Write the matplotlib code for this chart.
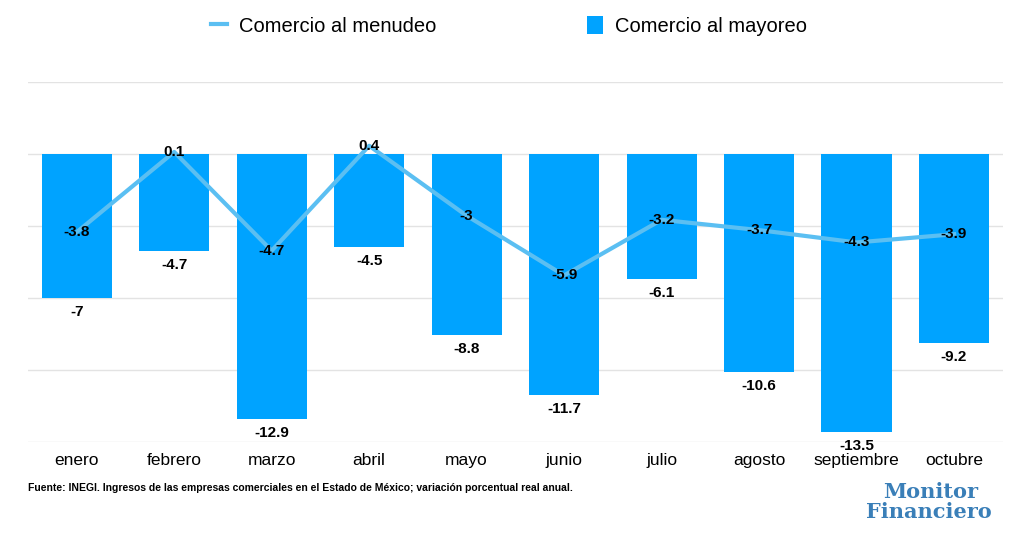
import numpy as np
import matplotlib
matplotlib.use('Agg')
import matplotlib.pyplot as plt
from matplotlib.lines import Line2D
from matplotlib.patches import Patch

plt.rcParams['font.family'] = ['Liberation Sans', 'DejaVu Sans']

# Data (variación porcentual real anual)
meses = ['enero', 'febrero', 'marzo', 'abril', 'mayo', 'junio',
         'julio', 'agosto', 'septiembre', 'octubre']
menudeo = [-3.8, 0.1, -4.7, 0.4, -3.0, -5.9, -3.2, -3.7, -4.3, -3.9]
mayoreo = [-7.0, -4.7, -12.9, -4.5, -8.8, -11.7, -6.1, -10.6, -13.5, -9.2]

bar_color = '#00A3FF'
line_color = '#5BBFF2'

fig = plt.figure(figsize=(10.24, 5.5), dpi=100)
ax = fig.add_axes([0.0273, 0.1964, 0.952, 0.6545])

x = np.arange(len(meses))
ax.bar(x, mayoreo, width=0.72, color=bar_color, zorder=2)
ax.plot(x, menudeo, color=line_color, linewidth=3, zorder=3)

# bar labels below each bar
for xi, v in zip(x, mayoreo):
    ax.annotate(f'{v:g}', (xi, v), xytext=(0, -5), textcoords='offset points',
                ha='center', va='top', fontsize=11, fontweight='bold', zorder=5)

# line labels centred on the points
for xi, v in zip(x, menudeo):
    ax.text(xi, v, f'{v:g}', ha='center', va='center', fontsize=11,
            fontweight='bold', zorder=5)

ax.set_xlim(-0.5, len(meses) - 0.5)
ax.set_ylim(-14, 3.5)
ax.set_yticks(np.arange(-14, 3.6, 3.5))
ax.set_yticklabels([])
ax.tick_params(axis='y', length=0)
ax.tick_params(axis='x', length=0, pad=8, labelsize=12.5)
ax.set_xticks(x)
ax.set_xticklabels(meses)
ax.grid(axis='y', color='#E3E3E3', linewidth=1, zorder=0)
ax.set_axisbelow(True)
for s in ax.spines.values():
    s.set_visible(False)

# legend
handles = [Line2D([0], [0], color=line_color, linewidth=3),
           Patch(facecolor=bar_color)]
fig.legend(handles, ['Comercio al menudeo', 'Comercio al mayoreo'],
           loc='center', bbox_to_anchor=(0.497, 0.953), ncol=2, frameon=False,
           fontsize=14.5, handlelength=0.8, handleheight=1.0, columnspacing=7.5,
           handletextpad=0.6)

fig.text(0.0273, 0.113,
         'Fuente: INEGI. Ingresos de las empresas comerciales en el Estado de México; '
         'variación porcentual real anual.',
         fontsize=7.5, fontweight='bold', ha='left', va='center')

# logo text
fig.text(0.862, 0.105, 'Monitor', fontsize=15, fontweight='bold', color='#3A7FB8',
         family='DejaVu Serif', ha='left', va='center')
fig.text(0.846, 0.07, 'Financiero', fontsize=15, fontweight='bold', color='#3A7FB8',
         family='DejaVu Serif', ha='left', va='center')

fig.savefig('out.png', dpi=100)
